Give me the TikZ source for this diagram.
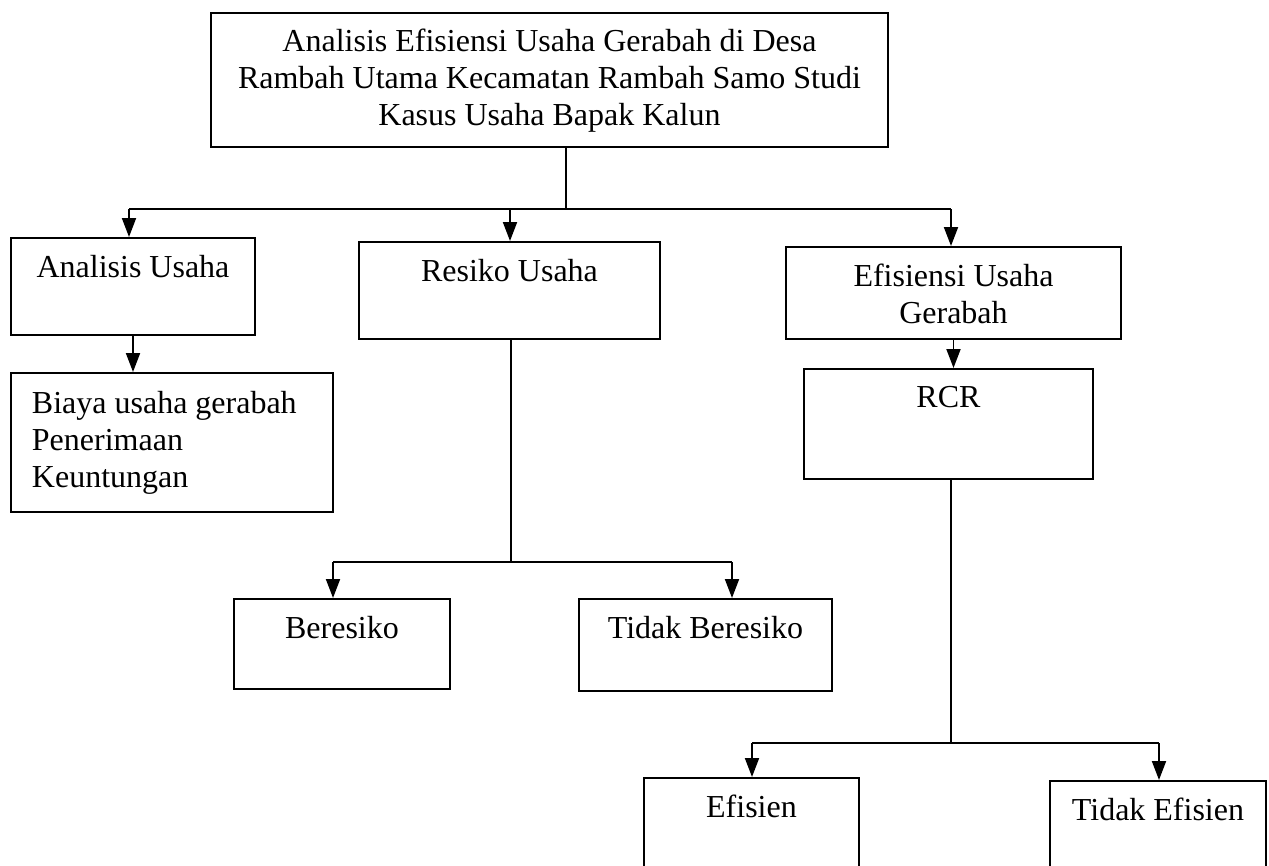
\documentclass[tikz,border=0pt]{standalone}
\usepackage{fontspec}
\setmainfont{Liberation Serif}
\usetikzlibrary{arrows.meta,positioning}

\tikzset{
  box/.style={draw, line width=2pt, inner sep=0pt, anchor=north west},
  lbl/.style={inner sep=0pt, align=center, font=\fontsize{32}{37}\selectfont},
  arr/.style={-{Triangle[length=19pt,width=14pt]}},
}

\begin{document}
\begin{tikzpicture}[x=1pt, y=-1pt, line width=1.9pt]
\useasboundingbox (0,0) rectangle (1269,865);

% kotak
\node[box, minimum width=677, minimum height=134] (judul) at (210,12) {};
\node[box, minimum width=244, minimum height=97] (analisis) at (10,237) {};
\node[box, minimum width=301, minimum height=97] (resiko) at (358,241) {};
\node[box, minimum width=335, minimum height=92] (efisiensi) at (785,246) {};
\node[box, minimum width=322, minimum height=139] (biaya) at (10,372) {};
\node[box, minimum width=289, minimum height=110] (rcr) at (803,368) {};
\node[box, minimum width=216, minimum height=90] (beresiko) at (233,598) {};
\node[box, minimum width=253, minimum height=92] (tdkberesiko) at (578,598) {};
\node[box, minimum width=215, minimum height=110] (efisien) at (643,777) {};
\node[box, minimum width=216, minimum height=110] (tdkefisien) at (1049,780) {};

% tulisan
\node[lbl, below=16pt of judul.north] (judul-t) {Analisis Efisiensi Usaha Gerabah di Desa\\Rambah Utama Kecamatan Rambah Samo Studi\\Kasus Usaha Bapak Kalun};
\node[lbl, below=17pt of analisis.north] (analisis-t) {Analisis Usaha};
\node[lbl, below=17pt of resiko.north] (resiko-t) {Resiko Usaha};
\node[lbl, below=17pt of efisiensi.north] (efisiensi-t) {Efisiensi Usaha\\Gerabah};
\node[lbl, align=left, anchor=north west] (biaya-t) at ([xshift=21pt,yshift=-18pt]biaya.north west) {Biaya usaha gerabah\\Penerimaan\\Keuntungan};
\node[lbl, below=17pt of rcr.north] (rcr-t) {RCR};
\node[lbl, below=17pt of beresiko.north] (beresiko-t) {Beresiko};
\node[lbl, below=17pt of tdkberesiko.north] (tdkberesiko-t) {Tidak Beresiko};
\node[lbl, below=17pt of efisien.north] (efisien-t) {Efisien};
\node[lbl, below=17pt of tdkefisien.north] (tdkefisien-t) {Tidak Efisien};

% garis cabang
\coordinate (c1) at (566,209);
\coordinate (c1l) at (129,209);
\coordinate (c1m) at (510,209);
\coordinate (c1r) at (951,209);
\coordinate (c2) at (511,562);
\coordinate (c2l) at (333,562);
\coordinate (c2r) at (732,562);
\coordinate (c3) at (951,743);
\coordinate (c3l) at (752,743);
\coordinate (c3r) at (1159,743);

\draw (judul.south -| c1) -- (c1);
\draw (c1l) -- (c1r);
\draw[arr] (c1l) -- (c1l |- analisis.north);
\draw[arr] (c1m) -- (c1m |- resiko.north);
\draw[arr] (c1r) -- (c1r |- efisiensi.north);

\draw[arr] (analisis.south) -- (analisis.south |- biaya.north);
\draw[arr] (efisiensi.south) -- (efisiensi.south |- rcr.north);

\draw (resiko.south -| c2) -- (c2);
\draw (c2l) -- (c2r);
\draw[arr] (c2l) -- (c2l |- beresiko.north);
\draw[arr] (c2r) -- (c2r |- tdkberesiko.north);

\draw (rcr.south -| c3) -- (c3);
\draw (c3l) -- (c3r);
\draw[arr] (c3l) -- (c3l |- efisien.north);
\draw[arr] (c3r) -- (c3r |- tdkefisien.north);
\end{tikzpicture}
\end{document}
